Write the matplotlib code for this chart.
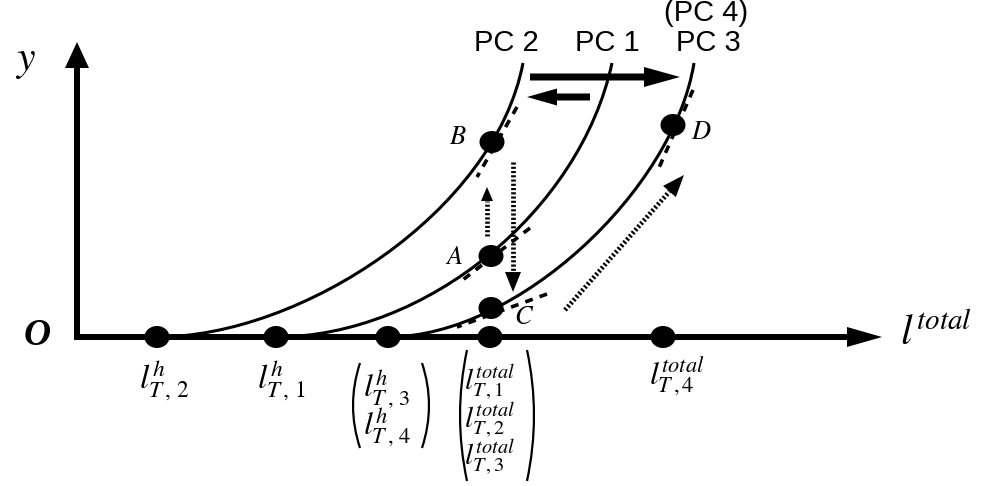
import numpy as np
import matplotlib
matplotlib.use("Agg")
import matplotlib.pyplot as plt
from matplotlib.path import Path
from matplotlib.patches import PathPatch, Ellipse

# diagram drawn in pixel units of the 984x486 picture (y grows downward)
axis_x0 = 77
axis_y0 = 337

# dots on the l^total axis
axis_dot_x = [157, 276, 388, 490, 663]

# points
pc2_x = [157, 233, 300, 367, 428, 492, 523]
pc2_y = [337, 326, 302, 267, 220, 142, 63]
pc1_x = [276, 300, 367, 428, 491, 527, 552, 612]
pc1_y = [337, 333, 318, 295, 256, 220, 188, 63]
pc3_x = [388, 428, 491, 560, 637, 673, 694]
pc3_y = [337, 331, 308, 268, 188, 125, 63]

curve_names = ["PC 2", "PC 1", "PC 3"]

# marked points A-D
point_names = ["A", "B", "C", "D"]
point_x = [491, 492, 491, 673]
point_y = [256, 142, 308, 125]

# tangent (dashed) segments at A, B, C, D
tangent_x = [(530, 460), (517, 477), (547, 457), (693, 658)]
tangent_y = [(228, 282), (107, 177), (294, 327), (90, 170)]


def bezier_path(xs, ys):
    """Least-squares cubic Bezier through the read points, flat at the axis."""
    q = np.column_stack([xs, ys]).astype(float)
    p0, p3 = q[0], q[-1]
    seg = np.hypot(*np.diff(q, axis=0).T)
    t = np.concatenate([[0], np.cumsum(seg)]) / seg.sum()
    for _ in range(30):
        b0 = (1 - t) ** 3
        b1 = 3 * (1 - t) ** 2 * t
        b2 = 3 * (1 - t) * t ** 2
        b3 = t ** 3
        rx = q[:, 0] - (b0 + b1) * p0[0] - b3 * p3[0]
        ry = q[:, 1] - (b0 + b1) * p0[1] - b3 * p3[1]
        (s, p2x), *_ = np.linalg.lstsq(np.column_stack([b1, b2]), rx, rcond=None)
        p2y = np.dot(b2, ry) / np.dot(b2, b2)
        p1 = np.array([p0[0] + s, p0[1]])
        p2 = np.array([p2x, p2y])
        tt = np.linspace(0, 1, 400)
        curve = (np.outer((1 - tt) ** 3, p0) + np.outer(3 * (1 - tt) ** 2 * tt, p1)
                 + np.outer(3 * (1 - tt) * tt ** 2, p2) + np.outer(tt ** 3, p3))
        d = np.hypot(curve[None, :, 0] - q[:, None, 0],
                     curve[None, :, 1] - q[:, None, 1])
        t = tt[d.argmin(axis=1)]
        t[0], t[-1] = 0, 1
    return Path([p0, p1, p2, p3], [Path.MOVETO] + [Path.CURVE4] * 3)


def dotted_arrow(ax, x0, y0, x1, y1, head_len, head_w):
    """Densely dotted shaft with a solid head."""
    d = np.array([x1 - x0, y1 - y0], float)
    u = d / np.hypot(*d)
    bx, by = np.array([x1, y1]) - u * head_len
    ax.plot([x0, bx], [y0, by], color="black", lw=3.4,
            ls=(0, (0.45, 0.45)), solid_capstyle="butt")
    ax.arrow(bx, by, x1 - bx, y1 - by, width=0.1, head_width=head_w,
             head_length=head_len, length_includes_head=True,
             fc="black", ec="black", lw=0)


def paren(ax, x_edge, top, bottom, side):
    """Tall round bracket; side=-1 for '(' and +1 for ')'."""
    yc = (top + bottom) / 2
    bulge = 7
    tip_x = x_edge - side * bulge
    ctrl_x = x_edge + side * bulge
    path = Path([(tip_x, top), (ctrl_x, yc), (tip_x, bottom)],
                [Path.MOVETO, Path.CURVE3, Path.CURVE3])
    ax.add_patch(PathPatch(path, fill=False, lw=1.6, ec="black"))


plt.rcParams["mathtext.fontset"] = "stix"
fig = plt.figure(figsize=(9.84, 4.86), dpi=100)
ax = fig.add_axes([0, 0, 1, 1])
ax.set_xlim(0, 984)
ax.set_ylim(486, 0)
ax.axis("off")

# axes
ax.arrow(axis_x0, axis_y0 + 3, 0, 42 - axis_y0 - 3, width=6, head_width=24,
         head_length=26, length_includes_head=True, fc="black", ec="black", lw=0)
ax.arrow(axis_x0 - 3, axis_y0, 882 - axis_x0 + 3, 0, width=6, head_width=20,
         head_length=35, length_includes_head=True, fc="black", ec="black", lw=0)

# curves
for xs, ys in [(pc2_x, pc2_y), (pc1_x, pc1_y), (pc3_x, pc3_y)]:
    ax.add_patch(PathPatch(bezier_path(xs, ys), fill=False, lw=2.2,
                           ec="black", capstyle="butt"))

# tangents
for tx, ty in zip(tangent_x, tangent_y):
    ax.plot(tx, ty, color="black", lw=2.6, ls=(0, (2.2, 2.0)))

# dots
for x in axis_dot_x:
    ax.add_patch(Ellipse((x, axis_y0), 25, 22, fc="black", zorder=5))
for x, y in zip(point_x, point_y):
    ax.add_patch(Ellipse((x, y), 25, 22, fc="black", zorder=5))

# point letters
letter_pos = {"A": (454, 257), "B": (458, 137), "C": (524, 317), "D": (701, 132)}
for name in point_names:
    lx, ly = letter_pos[name]
    ax.text(lx, ly, f"${name}$", fontsize=19, ha="center", va="center")

# curve names
for name, x in zip(curve_names, [506, 607, 708]):
    ax.text(x, 43, name, fontsize=21, family="Liberation Sans",
            ha="center", va="center")
ax.text(706, 13, "(PC 4)", fontsize=21, family="Liberation Sans",
        ha="center", va="center")

# shift arrows
ax.arrow(530, 77, 150, 0, width=7, head_width=20, head_length=36,
         length_includes_head=True, fc="black", ec="black", lw=0)
ax.arrow(590, 97, -63, 0, width=7, head_width=17, head_length=30,
         length_includes_head=True, fc="black", ec="black", lw=0)

dotted_arrow(ax, 487, 236, 487, 187, 14, 12)
dotted_arrow(ax, 513, 162, 513, 292, 20, 16)
dotted_arrow(ax, 565, 310, 684, 175, 22, 17)

# axis names
ax.text(25, 60, "$y$", fontsize=30, ha="center", va="center")
ax.text(37, 335, "O", fontsize=27, family="Liberation Serif", style="italic",
        weight="bold", ha="center", va="center")
ax.text(900, 333, r"$l^{total}$", fontsize=30, ha="left", va="center")

# axis labels
ax.text(axis_dot_x[0] - 18, 381, r"$l^{h}_{T\,,\,2}$", fontsize=24,
        ha="left", va="center")
ax.text(axis_dot_x[1] - 19, 381, r"$l^{h}_{T\,,\,1}$", fontsize=24,
        ha="left", va="center")
ax.text(axis_dot_x[2] - 25, 389, r"$l^{h}_{T\,,\,3}$", fontsize=23,
        ha="left", va="center")
ax.text(axis_dot_x[2] - 25, 427, r"$l^{h}_{T\,,\,4}$", fontsize=23,
        ha="left", va="center")
for k, yy in zip([1, 2, 3], [382, 420, 457]):
    ax.text(axis_dot_x[3] - 26, yy, rf"$l^{{total}}_{{T\,,{k}}}$", fontsize=21,
            ha="left", va="center")
ax.text(axis_dot_x[4] - 14, 377, r"$l^{total}_{T\,,4}$", fontsize=23,
        ha="left", va="center")

# brackets around stacked labels
for left, right, top, bottom in [(353, 429, 363, 448), (460, 534, 350, 481)]:
    paren(ax, left, top, bottom, -1)
    paren(ax, right, top, bottom, 1)

fig.savefig("out.png", dpi=100)
